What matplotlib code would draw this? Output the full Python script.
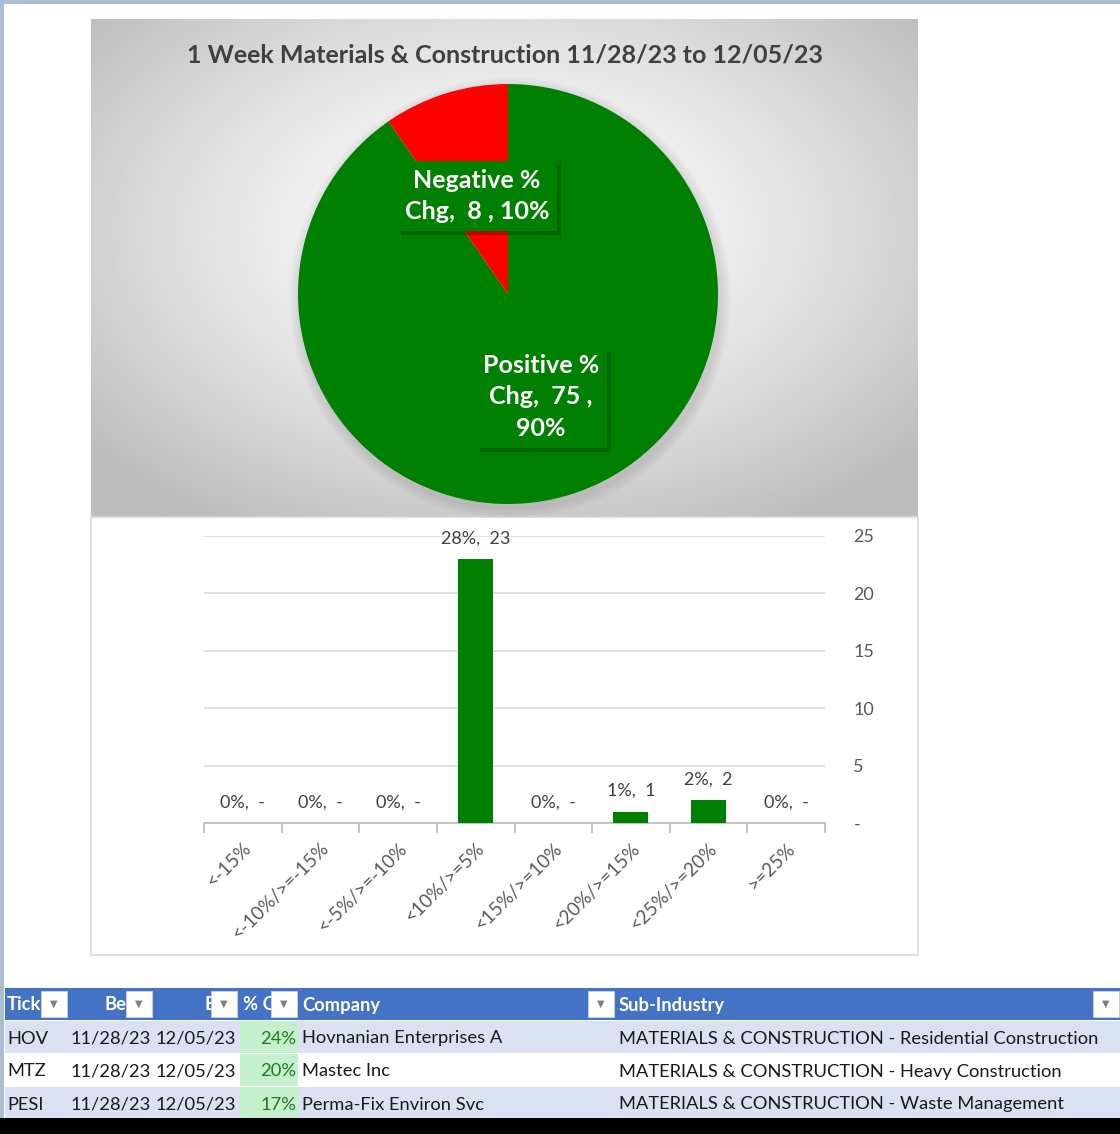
import matplotlib
matplotlib.use("Agg")
import matplotlib.pyplot as plt
import matplotlib.patheffects as pe
from matplotlib.patches import Rectangle, Circle
import numpy as np

W, H = 1120, 1134

# pie data
pie_labels = ["Positive % Chg", "Negative % Chg"]
pie_counts = [75, 8]
pie_pcts = [90, 10]
pie_colors = ["#008000", "#ff0000"]

# bar data
bins = ["<-15%", "<-10%/>=-15%", "<-5%/>=-10%", "<10%/>=5%",
        "<15%/>=10%", "<20%/>=15%", "<25%/>=20%", ">=25%"]
bin_counts = [0, 0, 0, 23, 0, 1, 2, 0]
bin_shares = [0, 0, 0, 28, 0, 1, 2, 0]
y_ticks = [0, 5, 10, 15, 20, 25]

# table data
headers = ["Tick", "Be", "E", "% C", "Company", "Sub-Industry"]
tickers = ["HOV", "MTZ", "PESI"]
begin_dates = ["11/28/23", "11/28/23", "11/28/23"]
end_dates = ["12/05/23", "12/05/23", "12/05/23"]
pct_chg = [24, 20, 17]
companies = ["Hovnanian Enterprises A", "Mastec Inc", "Perma-Fix Environ Svc"]
sub_industries = ["MATERIALS & CONSTRUCTION - Residential Construction",
                  "MATERIALS & CONSTRUCTION - Heavy Construction",
                  "MATERIALS & CONSTRUCTION - Waste Management"]

FONT = "Lato"
plt.rcParams["font.family"] = [FONT, "DejaVu Sans"]


def px_rect(x0, y0, x1, y1):
    # pixel box (top-left origin) -> figure fraction
    return [x0 / W, 1 - y1 / H, (x1 - x0) / W, (y1 - y0) / H]


def pixel_axes(zorder):
    a = fig.add_axes([0, 0, 1, 1], zorder=zorder)
    a.set_xlim(0, W)
    a.set_ylim(H, 0)
    a.patch.set_alpha(0)
    a.axis("off")
    return a


fig = plt.figure(figsize=(W / 100, H / 100), dpi=100)
fig.patch.set_facecolor("white")

# background / frame axes in pixel coordinates
bg = pixel_axes(0)

frame_col = "#abbdd1"
bg.add_patch(Rectangle((0, 0), W, 4, color=frame_col, lw=0))
bg.add_patch(Rectangle((0, 0), 4, 1118, color=frame_col, lw=0))

# radial gradient behind the pie
px0, py0, px1, py1 = 91, 19, 918, 517
gx = np.linspace(-1, 1, 400)
gy = np.linspace(-1, 1, 240)
GX, GY = np.meshgrid(gx, gy)
cy = -0.15
r = np.sqrt(GX ** 2 + ((GY - cy) / 1.05) ** 2)
shade = 1.0 - 0.26 * np.clip(r / 1.3, 0, 1) ** 1.4
bg.imshow(shade, cmap="gray", vmin=0, vmax=1, extent=(px0, px1, py1, py0),
          aspect="auto", interpolation="bilinear", zorder=1)

# bar chart frame
bg.add_patch(Rectangle((91, 517), 918 - 91, 955 - 517, facecolor="white",
                       edgecolor="#d9d9d9", lw=1.2, zorder=1))

bg.text(505, 55, "1 Week Materials & Construction 11/28/23 to 12/05/23",
        ha="center", va="center", fontsize=18, fontweight="bold",
        color="#404040", zorder=3)

# ---- pie ----
pcx, pcy, pr = 508, 294, 210
ax_pie = fig.add_axes(px_rect(pcx - pr, pcy - pr, pcx + pr, pcy + pr), zorder=2)
ax_pie.patch.set_alpha(0)
for k in range(5):
    ax_pie.add_patch(Circle((0.01, -0.02), 1.0 + 0.01 * (k + 1),
                            color="black", alpha=0.02, lw=0))
ax_pie.pie(pie_counts, colors=pie_colors, startangle=90, counterclock=False,
           radius=1.0, wedgeprops=dict(linewidth=0))
ax_pie.set_xlim(-1.08, 1.08)
ax_pie.set_ylim(-1.08, 1.08)
ax_pie.set_aspect("equal")
ax_pie.set_position(px_rect(pcx - pr * 1.08, pcy - pr * 1.08,
                            pcx + pr * 1.08, pcy + pr * 1.08))
ax_pie.axis("off")

# data labels sit above the pie
top = pixel_axes(5)
label_pos = {"Positive % Chg": (541, 397), "Negative % Chg": (477, 196)}
for name, cnt, pct in zip(pie_labels, pie_counts, pie_pcts):
    word, rest = name.split(" % ")
    if name.startswith("Positive"):
        txt = f"{word} %\n{rest},  {cnt} ,\n{pct}%"
    else:
        txt = f"{word} %\n{rest},  {cnt} , {pct}%"
    x, y = label_pos[name]
    t = top.text(x, y, txt, ha="center", va="center", fontsize=18,
                 fontweight="bold", color="white", linespacing=1.45,
                 zorder=4,
                 bbox=dict(boxstyle="square,pad=0.3", fc="#008000",
                           ec="none"))
    t.get_bbox_patch().set_path_effects(
        [pe.SimplePatchShadow(offset=(3, -3), alpha=0.3), pe.Normal()])

# ---- bar chart ----
ax = fig.add_axes(px_rect(204, 536, 825, 823), zorder=2)
ax.patch.set_alpha(0)
xpos = np.arange(len(bins))
ax.bar(xpos, bin_counts, width=0.45, color="#008000", zorder=3)
ax.set_xlim(-0.5, len(bins) - 0.5)
ax.set_ylim(0, 25)
ax.set_yticks(y_ticks)
ax.set_yticklabels(["-" if v == 0 else str(v) for v in y_ticks])
ax.yaxis.grid(True, color="#dedede", lw=1.3)
ax.set_axisbelow(True)
for s in ["top", "left", "right"]:
    ax.spines[s].set_visible(False)
ax.spines["bottom"].set_color("#bfbfbf")
ax.spines["bottom"].set_linewidth(1.3)
ax.tick_params(axis="y", left=False, labelleft=False, right=False,
               labelright=True, pad=17, labelsize=13, labelcolor="#595959")
ax.set_xticks(xpos)
ax.set_xticklabels(bins, rotation=45, ha="right", rotation_mode="anchor",
                   fontsize=13.5, color="#595959")
ax.tick_params(axis="x", length=0, pad=12)
ax.set_xticks(np.arange(len(bins) + 1) - 0.5, minor=True)
ax.tick_params(axis="x", which="minor", length=7, color="#bfbfbf", width=1.3)

for x, c, s in zip(xpos, bin_counts, bin_shares):
    lab = f"{s}%,  {c}" if c else f"{s}%,  -"
    ax.annotate(lab, (x, c), xytext=(0, 15), textcoords="offset points",
                ha="center", va="center", fontsize=13, color="#404040",
                zorder=4)

# ---- table ----
col_edges = [5, 68, 153, 238, 298, 615, 1120]
hdr_y0, hdr_y1 = 988, 1020
row_h = 33
bg.add_patch(Rectangle((5, hdr_y0), W - 5, hdr_y1 - hdr_y0, color="#4472c4",
                       lw=0, zorder=2))
hdr_text_x = [7, 104, 205, 243, 302, 619]
for hx, h in zip(hdr_text_x, headers):
    bg.text(hx, 1005, h, ha="left", va="center", fontsize=13.2,
            fontweight="bold", color="white", zorder=3)
for right in col_edges[1:]:
    bx1 = min(right - 1, W)
    bx0 = bx1 - 26
    bg.add_patch(Rectangle((bx0, 991), 26, 26, facecolor="white",
                           edgecolor="#d0d0d0", lw=0.6, zorder=4))
    bg.text(bx0 + 13, 1004, "\u25BC", ha="center", va="center",
            fontsize=7, color="#7f7f7f", family="DejaVu Sans", zorder=5)

for i in range(len(tickers)):
    y0 = hdr_y1 + 1 + i * row_h
    fill = "#d9e1f2" if i % 2 == 0 else "white"
    bg.add_patch(Rectangle((5, y0), W - 5, row_h - 1, color=fill, lw=0,
                           zorder=2))
    bg.add_patch(Rectangle((240, y0), 58, row_h - 1, color="#c6efce", lw=0,
                           zorder=2))
    yc = y0 + row_h / 2 + 1
    kw = dict(va="center", fontsize=13.2, color="#1a1a1a", zorder=3)
    bg.text(7, yc, tickers[i], ha="left", **kw)
    bg.text(151, yc, begin_dates[i], ha="right", **kw)
    bg.text(236, yc, end_dates[i], ha="right", **kw)
    bg.text(296, yc, f"{pct_chg[i]}%", ha="right", va="center",
            fontsize=13.2, color="#1e7b1e", zorder=3)
    bg.text(302, yc, companies[i], ha="left", **kw)
    bg.text(619, yc, sub_industries[i], ha="left", **kw)

bg.add_patch(Rectangle((0, 1118), W, H - 1118, color="black", lw=0, zorder=2))

fig.savefig("out.png", dpi=100)
